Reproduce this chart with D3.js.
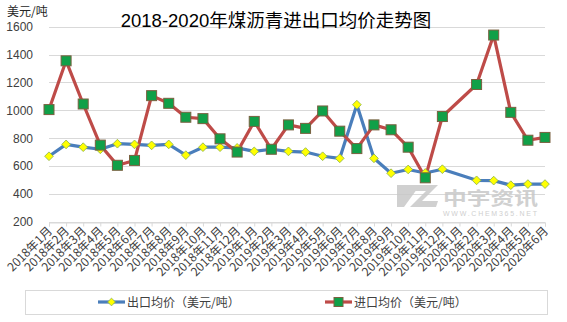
<!DOCTYPE html>
<html><head><meta charset="utf-8">
<script src="https://cdn.jsdelivr.net/npm/d3@7"></script>
<style>
body{margin:0;background:#fff;}
svg{display:block;font-family:"Noto Sans CJK SC","Liberation Sans",sans-serif;}
</style></head>
<body><svg id="c" width="567" height="322"></svg>
<script>
const categories = ["2018年1月","2018年2月","2018年3月","2018年4月","2018年5月","2018年6月","2018年7月","2018年8月","2018年9月","2018年10月","2018年11月","2018年12月","2019年1月","2019年2月","2019年3月","2019年4月","2019年5月","2019年6月","2019年7月","2019年8月","2019年9月","2019年10月","2019年11月","2019年12月","2020年1月","2020年2月","2020年3月","2020年4月","2020年5月","2020年6月"];
const exportPrice = [670,755,735,720,760,755,748,755,678,735,735,730,705,720,705,700,670,655,1040,655,548,575,550,577,null,497,495,462,470,470];
const importPrice = [1005,1355,1045,750,605,640,1105,1050,950,940,795,700,920,720,895,870,995,850,725,895,860,735,515,955,null,1185,1540,985,785,805];
const yTicks = [200,400,600,800,1000,1200,1400,1600];
const seriesNames = ["出口均价（美元/吨）","进口均价（美元/吨）"];
const title = "2018-2020年煤沥青进出口均价走势图";
const unit = "美元/吨";

const svg = d3.select("#c");
const L = 49, R = 545, T = 26.7, B = 221.7;
const x = d3.scalePoint().domain(categories).range([L, R]);
const y = d3.scaleLinear().domain([200,1600]).range([B, T]);

// gridlines
svg.append("g").selectAll("line").data(yTicks).join("line")
  .attr("x1", L).attr("x2", R).attr("y1", d=>Math.round(y(d))+0.5).attr("y2", d=>Math.round(y(d))+0.5)
  .attr("stroke", "#d9d9d9").attr("stroke-width", 1);

// y axis labels
svg.append("g").selectAll("text").data(yTicks).join("text")
  .attr("x", 33).attr("y", d=>y(d)+4.5).attr("text-anchor","end")
  .attr("font-size", 12).attr("font-family","Liberation Sans, Arial, sans-serif").attr("fill","#404040")
  .text(d=>d);

// x axis
const xAxis = d3.axisBottom(x).tickSize(4).tickFormat("");
const gx = svg.append("g").attr("transform", `translate(0,${Math.round(B)+0.5})`).call(xAxis);
gx.select(".domain").attr("stroke","#d9d9d9");
gx.selectAll(".tick line").attr("stroke","#d9d9d9");

// x labels rotated
svg.append("g").selectAll("text").data(categories).join("text")
  .attr("transform", d=>`translate(${x(d)+4},${B+10}) rotate(-45)`)
  .attr("text-anchor","end").attr("font-size", 12).attr("fill","#404040")
  .text(d=>d);

// watermark
const wm = svg.append("g").attr("fill","#c8c8c8").attr("opacity",0.85);
wm.append("path").attr("d","M397,185 L420,185 L404,207 L397,207 Z M412,185 L438,185 L422,201 L438,201 L436,207 L410,207 L426,191 L410,191 Z");
wm.append("text").attr("x",443).attr("y",205).attr("font-size",18).attr("font-weight","bold")
  .attr("textLength",95).attr("lengthAdjust","spacingAndGlyphs").text("中宇资讯");
wm.append("text").attr("x",443).attr("y",216).attr("font-size",7).attr("font-family","Liberation Sans, Arial, sans-serif")
  .attr("textLength",94).text("WWW.CHEM365.NET");

// lines
const line = d3.line().x(d=>x(d.c)).y(d=>y(d.v));
const exp = categories.map((c,i)=>({c, v: exportPrice[i]})).filter(d=>d.v!=null);
const imp = categories.map((c,i)=>({c, v: importPrice[i]})).filter(d=>d.v!=null);

svg.append("path").datum(exp).attr("d", line).attr("fill","none")
  .attr("stroke","#4a7ebb").attr("stroke-width",3.2).attr("stroke-linejoin","round");
svg.append("path").datum(imp).attr("d", line).attr("fill","none")
  .attr("stroke","#be4b48").attr("stroke-width",3.2).attr("stroke-linejoin","round");

svg.append("g").selectAll("path").data(exp).join("path")
  .attr("d", d3.symbol().type(d3.symbolSquare).size(38))
  .attr("transform", d=>`translate(${x(d.c)},${y(d.v)}) rotate(45)`)
  .attr("fill","#ffff00").attr("stroke","#8fb44a").attr("stroke-width",0.8);
svg.append("g").selectAll("rect").data(imp).join("rect")
  .attr("x", d=>x(d.c)-5).attr("y", d=>y(d.v)-5).attr("width",10).attr("height",10)
  .attr("fill","#10a048").attr("stroke","#7a6040").attr("stroke-width",1);

// title
svg.append("text").attr("x",276).attr("y",27).attr("text-anchor","middle")
  .attr("font-size",18.5).attr("fill","#000")
  .attr("font-family","'Liberation Sans','Noto Sans CJK SC',sans-serif").text(title);
svg.append("text").attr("x",7).attr("y",16).attr("font-size",12).attr("fill","#262626").text(unit);

// legend
svg.append("rect").attr("x",25.5).attr("y",290.5).attr("width",522).attr("height",24)
  .attr("fill","none").attr("stroke","#d9d9d9");
const lg = [{x0:98, color:"#4a7ebb", name:seriesNames[0], kind:"d"},{x0:325, color:"#be4b48", name:seriesNames[1], kind:"s"}];
lg.forEach(o=>{
  svg.append("line").attr("x1",o.x0).attr("x2",o.x0+27).attr("y1",302).attr("y2",302)
    .attr("stroke",o.color).attr("stroke-width",3.2);
  if(o.kind==="d"){
    svg.append("path").attr("d", d3.symbol().type(d3.symbolSquare).size(30))
      .attr("transform",`translate(${o.x0+13.5},302) rotate(45)`)
      .attr("fill","#ffff00").attr("stroke","#8fb44a").attr("stroke-width",0.8);
  } else {
    svg.append("rect").attr("x",o.x0+9).attr("y",297.5).attr("width",9).attr("height",9)
      .attr("fill","#10a048").attr("stroke","#7a6040");
  }
  svg.append("text").attr("x",o.x0+29).attr("y",306.5).attr("font-size",12).attr("fill","#404040").text(o.name);
});
</script></body></html>
